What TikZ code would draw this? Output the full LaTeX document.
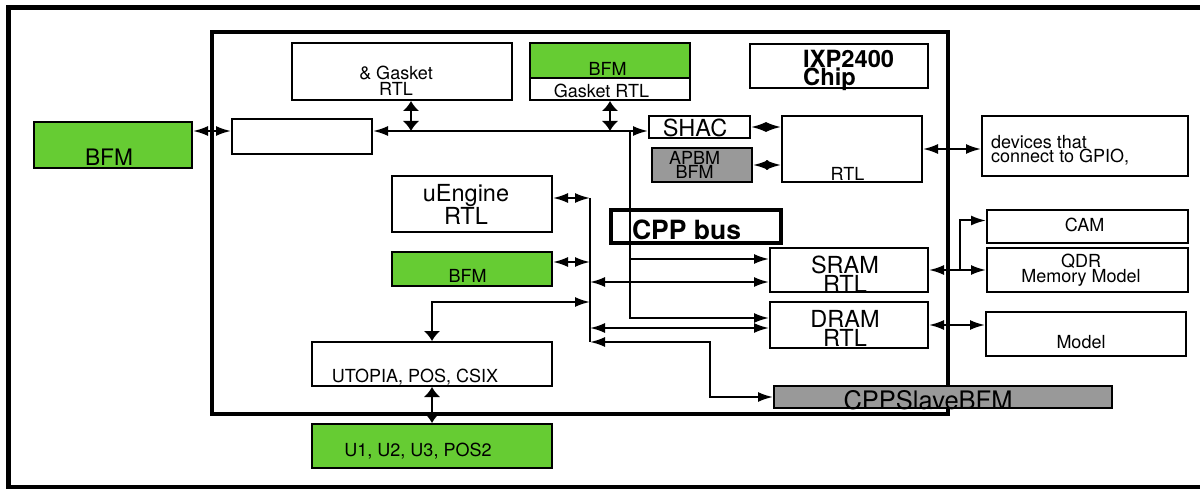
\documentclass[tikz,border=0pt]{standalone}
\usepackage{fontspec}
\setmainfont{TeX Gyre Heros}
\usetikzlibrary{positioning, arrows.meta}
\definecolor{bfmgreen}{RGB}{102,204,51}
\definecolor{bfmgray}{RGB}{153,153,153}
\tikzset{
	hd/.tip={Latex[length=15pt, width=10pt]},
	vd/.tip={Latex[length=10pt, width=17pt]},
	frame/.style={line width=5pt},
	chip/.style={line width=3.5pt},
	blk/.style={draw=black, line width=2pt, inner sep=0pt},
	greenblk/.style={blk, fill=bfmgreen},
	grayblk/.style={blk, fill=bfmgray},
	busblk/.style={draw=black, line width=3.5pt, inner sep=0pt},
	conn/.style={line width=2pt},
	both/.style={conn, hd-hd},
	vboth/.style={conn, vd-vd},
	fwd/.style={conn, -hd},
	txt/.style={inner sep=0pt, anchor=base, align=center, font=\fontsize{18}{13}\selectfont},
	txtl/.style={txt, font=\fontsize{23.5}{17}\selectfont},
	txtb/.style={txt, font=\bfseries\fontsize{23.7}{18}\selectfont}
}

\begin{document}
\begin{tikzpicture}[x=1pt, y=-1pt]
\useasboundingbox (0,0) rectangle (1200,489);
\draw[frame] (8,8) rectangle (1225,487);
\draw[chip] (212,32) rectangle (948,414);

% blocks
\node[greenblk, minimum width=158pt, minimum height=46pt] (lbfm) at (113,145) {};
\node[blk, minimum width=140pt, minimum height=35pt] (lbox) at (302,136.5) {};
\node[blk, minimum width=220pt, minimum height=57pt] (gasket) at (402,71.5) {};
\node[greenblk, minimum width=160pt, minimum height=35pt] (gbfm) at (610,60.5) {};
\node[blk, minimum width=160pt, minimum height=22pt] (ggas) at (610,89) {};
\node[blk, minimum width=178pt, minimum height=44pt] (ixp) at (839,66) {};
\node[blk, minimum width=101pt, minimum height=22pt] (shac) at (699.5,127) {};
\node[grayblk, minimum width=100pt, minimum height=34pt] (apbm) at (702,165) {};
\node[blk, minimum width=140pt, minimum height=66pt] (gpio) at (852,149) {};
\node[blk, minimum width=206pt, minimum height=60pt] (dev) at (1085,146) {};
\node[blk, minimum width=160pt, minimum height=56pt] (ueng) at (472,204) {};
\node[greenblk, minimum width=160pt, minimum height=34pt] (bfm2) at (472,269) {};
\node[busblk, minimum width=170pt, minimum height=33pt] (cpp) at (696,226.5) {};
\node[blk, minimum width=158pt, minimum height=44pt] (sram) at (849,270) {};
\node[blk, minimum width=158pt, minimum height=46pt] (dram) at (849,325) {};
\node[blk, minimum width=201pt, minimum height=33pt] (cam) at (1087.5,226.5) {};
\node[blk, minimum width=201pt, minimum height=44pt] (qdr) at (1087.5,270) {};
\node[blk, minimum width=200pt, minimum height=44pt] (model) at (1086,334) {};
\node[blk, minimum width=240pt, minimum height=44pt] (utopia) at (432,364) {};
\node[greenblk, minimum width=240pt, minimum height=44pt] (u1) at (432,446) {};
\node[grayblk, minimum width=338pt, minimum height=22pt] (slave) at (943,397) {};

% texts (base = last line)
\node[txt, font=\fontsize{22.7}{17}\selectfont] (lbfm-t) at (109,166) {BFM};
\node[txt, font=\fontsize{18}{16}\selectfont] (gasket-t) at (396,96) {\& Gasket\\RTL};
\node[txt] (gbfm-t) at (607.5,76) {BFM};
\node[txt] (ggas-t) at (601.5,98) {Gasket RTL};
\node[txtb, align=left, anchor=base west] (ixp-t) at (803,86) {IXP2400\\Chip};
\node[txtl] (shac-t) at (695,137) {SHAC};
\node[txt, font=\fontsize{18}{14}\selectfont] (apbm-t) at (694.5,179) {APBM\\BFM};
\node[txt] (gpio-t) at (847.5,181) {RTL};
\node[txt, align=left, anchor=base west, font=\fontsize{18}{11.5}\selectfont] (dev-t) at (991,163) {devices that\\connect to GPIO,};
\node[txtl, font=\fontsize{23.5}{18}\selectfont] (ueng-t) at (466,225) {uEngine\\RTL};
\node[txt] (bfm2-t) at (467.5,283) {BFM};
\node[txtb, font=\bfseries\fontsize{26.5}{20}\selectfont] (cpp-t) at (686.5,240) {CPP bus};
\node[txtl] (sram-t) at (845,292) {SRAM\\RTL};
\node[txtl] (dram-t) at (845,346) {DRAM\\RTL};
\node[txt] (cam-t) at (1084.5,232) {CAM};
\node[txt] (qdr-t) at (1081,283) {QDR\\Memory Model};
\node[txt] (model-t) at (1081,348) {Model};
\node[txt] (utopia-t) at (415,382) {UTOPIA, POS, CSIX};
\node[txt] (u1-t) at (418,456) {U1, U2, U3, POS2};
\node[txt, font=\fontsize{25.5}{20}\selectfont] (slave-t) at (928,409) {CPPSlaveBFM};

% connectors
\coordinate (bus) at (0,131);
\coordinate (g1) at (411,131);
\coordinate (v1) at (630,131);
\coordinate (v1s) at (630,259);
\coordinate (v2a) at (590,198);
\coordinate (v2b) at (590,342);
\coordinate (u2) at (590,302);
\coordinate (sk) at (710,342);
\coordinate (j) at (960,270);
\coordinate (ue) at ([yshift=6pt]ueng.east);
\coordinate (bf) at ([yshift=7pt]bfm2.east);
\coordinate (s1) at ([yshift=-12pt]sram.west);
\coordinate (d1) at ([yshift=-3pt]dram.west);

\draw[both] (lbfm.east |- bus) -- (lbox.west |- bus);
\draw[both] (lbox.east |- bus) -- (shac.west |- bus);
\draw[vboth] (gasket.south -| g1) -- (g1);
\draw[vboth] (ggas.south) -- (ggas.south |- bus);
\draw[fwd] (v1) |- ([yshift=7pt]dram.west);
\draw[fwd] (v1s) -- (v1s -| sram.west);
\draw[both] (shac.east) -- (shac.east -| gpio.west);
\draw[both] (apbm.east) -- (apbm.east -| gpio.west);
\draw[both] (gpio.east) -- (gpio.east -| dev.west);

\draw[conn] (v2a) -- (v2b);
\draw[both] (ue) -- (ue -| v2a);
\draw[both] (bf) -- (bf -| v2a);
\draw[both] (s1 -| v2a) -- (s1);
\draw[both] (d1 -| v2a) -- (d1);
\draw[conn, vd-hd] (utopia.north) |- (u2);
\draw[both] (v2b) -- (sk) |- (slave.west);

\draw[both] (sram.east) -- (qdr.west);
\draw[fwd] (j) |- ([yshift=6pt]cam.west);
\draw[both] (dram.east) -- (dram.east -| model.west);
\draw[vboth] (utopia.south) -- (u1.north);
\end{tikzpicture}
\end{document}
